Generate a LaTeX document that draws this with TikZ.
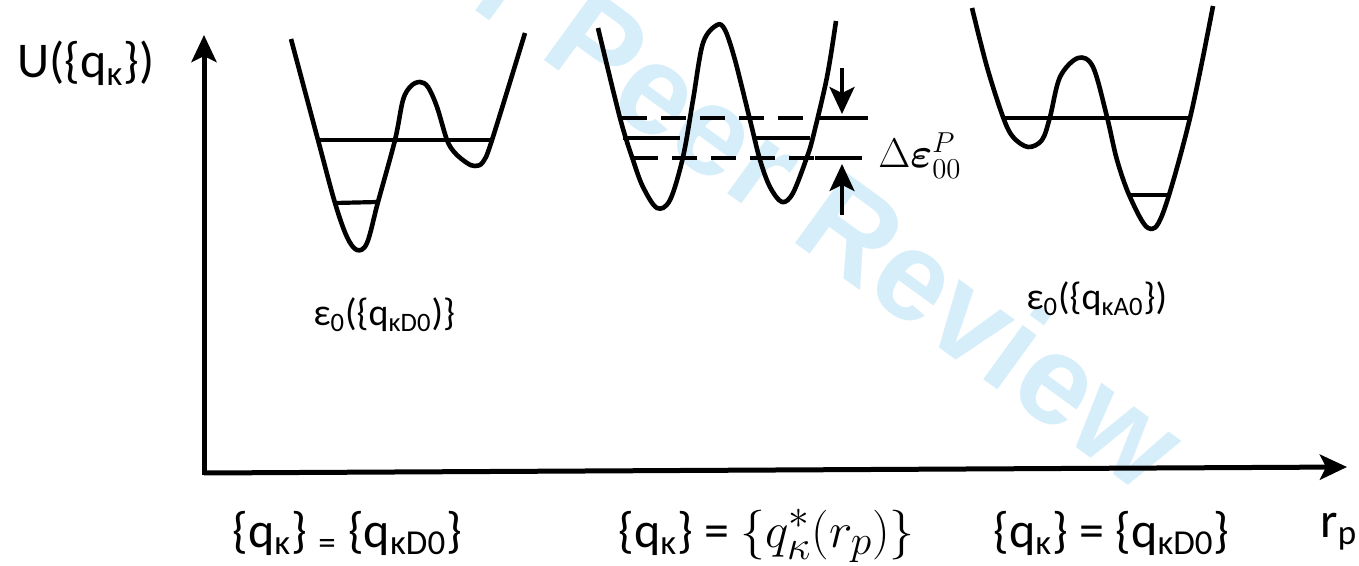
\documentclass[tikz,border=0pt]{standalone}
\usepackage{amsmath}
\usepackage{fontspec}
\setmainfont{Carlito}
\newfontfamily\wmfont{Liberation Sans}
\usepackage{xcolor}
\usetikzlibrary{arrows.meta}

\definecolor{wmblue}{RGB}{214,238,250}

\begin{document}
\begin{tikzpicture}[
    x=0.5pt,
    y=-0.5pt,
    >={Stealth[length=13.5pt,width=12.5pt,inset=3pt]},
    axis/.style={
        ->,
        line width=2.5pt
    },
    well/.style={
        line width=2.3pt,
        line join=round
    },
    level/.style={
        line width=2.1pt
    },
    lvldash/.style={
        line width=2.1pt,
        dash pattern=on 12.5pt off 7pt
    },
    gap/.style={
        ->,
        line width=1.6pt
    },
    lbl/.style={
        inner sep=0pt,
        anchor=base west,
        font=\fontsize{19}{21}\selectfont
    },
    biglbl/.style={
        inner sep=0pt,
        anchor=base west,
        font=\fontsize{25}{29}\selectfont
    }
]
\useasboundingbox (0,0) rectangle (1359,566);

%-------------------------------------------------
% Watermark
%-------------------------------------------------

\node[rotate=-36, anchor=base, inner sep=0pt, text=wmblue,
      font=\wmfont\bfseries\fontsize{63.5}{70}\selectfont]
      (wmark) at (743,205) {For Peer Review};

%-------------------------------------------------
% Axes
%-------------------------------------------------

\coordinate (O) at (204,473);
\coordinate (ybot) at (204,475);
\coordinate (ytip) at (204,35);
\coordinate (xtip) at (1347,467);

\draw[axis] (ybot) -- (ytip);
\draw[axis] (O) -- (xtip);

\node[biglbl] (ulabel) at (17,78) {U(\{q\textsubscript{κ}\})};
\node[biglbl] (rlabel) at (1320,537) {r\textsubscript{p}};

%-------------------------------------------------
% Donor well
%-------------------------------------------------

\draw[well] plot[smooth, tension=0.55] coordinates {
    (291,39) (318,140) (335,203) (347,237) (357,250) (367,243)
    (378,202) (395,140) (403,100) (411,86) (420,82) (428,87)
    (437,107) (447,140) (455,153) (467,163) (475,166) (483,162)
    (492,140) (525,33)};
\draw[level] (318,140) -- (492,140);
\draw[level] (335,203) -- (378,202);

\node[lbl] (epsD) at (313,326) {ε\textsubscript{0}(\{q\textsubscript{κD0})\}};

%-------------------------------------------------
% Transition state well
%-------------------------------------------------

\draw[well] plot[smooth, tension=0.55] coordinates {
    (598,28) (620,118) (633,160) (643,187) (657,208) (670,200)
    (683,157) (693,100) (703,43) (717,25) (725,30) (735,60)
    (750,120) (760,160) (770,187) (782,202) (793,193) (807,157)
    (813,137) (827,77) (836,21)};
\draw[lvldash] (622,118) -- (822,118);
\draw[level] (822,118) -- (868,118);
\draw[level] (623,138) -- (680,138);
\draw[level] (753,138) -- (810,138);
\draw[lvldash] (633,158) -- (815,158);
\draw[level] (815,158) -- (862,158);

\coordinate (dtop) at (842,68);
\coordinate (dtip) at (842,114);
\coordinate (ubot) at (842,215);
\coordinate (utip) at (842,164);
\draw[gap] (dtop) -- (dtip);
\draw[gap] (ubot) -- (utip);

\node[inner sep=0pt, anchor=base west, font=\fontsize{20}{24}\selectfont]
    (dlabel) at (878,168) {$\Delta\boldsymbol{\varepsilon}^{P}_{00}$};

%-------------------------------------------------
% Acceptor well
%-------------------------------------------------

\draw[well] plot[smooth, tension=0.55] coordinates {
    (972,8) (987,67) (1003,117) (1013,137) (1028,147) (1042,140)
    (1050,117) (1060,77) (1078,58) (1093,67) (1107,117) (1117,160)
    (1130,197) (1148,228) (1163,213) (1190,118) (1213,6)};
\draw[level] (1003,118) -- (1190,118);
\draw[level] (1128,195) -- (1168,195);

\node[lbl] (epsA) at (1026,310) {ε\textsubscript{0}(\{q\textsubscript{κA0}\})};

%-------------------------------------------------
% Coordinates along r_p
%-------------------------------------------------

\node[biglbl] (qleft) at (232,547)
    {\{q\textsubscript{κ}\} \textsubscript{=} \{q\textsubscript{κD0}\}};
\node[biglbl] (qmid) at (618,547)
    {\{q\textsubscript{κ}\} = \fontsize{29}{33}\selectfont$\{q^{*}_{\kappa}(r_{p})\}$};
\node[biglbl] (qright) at (993,547)
    {\{q\textsubscript{κ}\} = \{q\textsubscript{κD0}\}};

\end{tikzpicture}
\end{document}
